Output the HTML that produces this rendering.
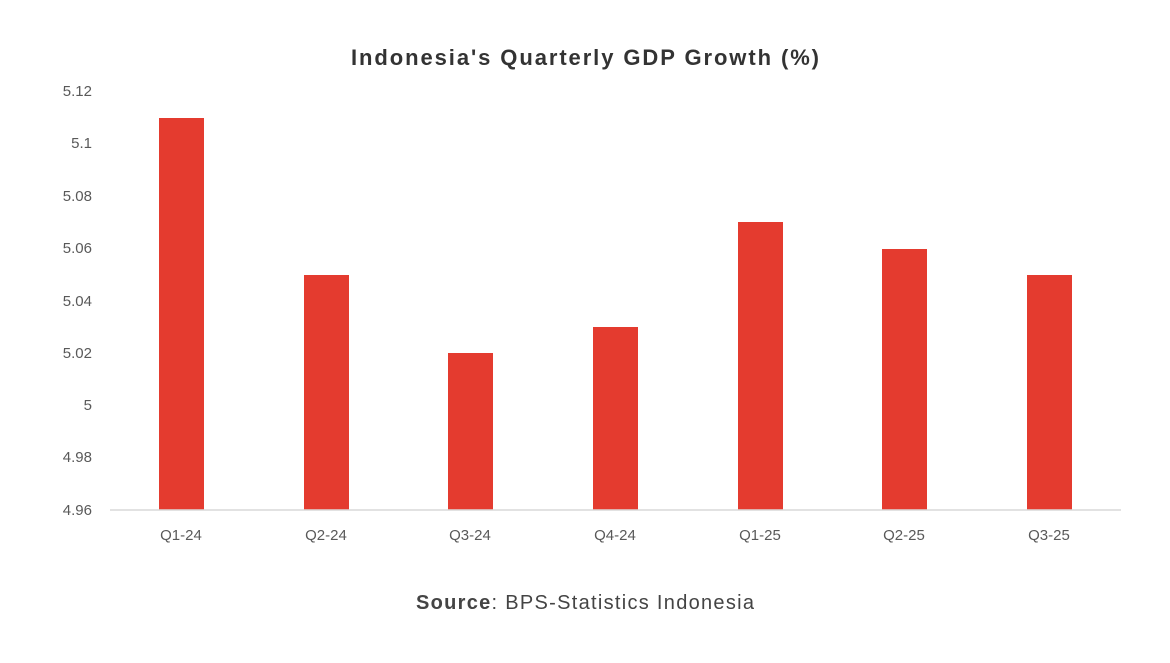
<!DOCTYPE html>
<html><head><meta charset="utf-8"><style>
body{margin:0;background:#fff;width:1170px;height:658px;overflow:hidden;font-family:"Liberation Sans",sans-serif}
</style></head><body>
<svg width="1170" height="658" xmlns="http://www.w3.org/2000/svg" font-family="Liberation Sans, sans-serif">
<text x="351" y="65" textLength="468" lengthAdjust="spacing" font-size="22" font-weight="bold" fill="#333">Indonesia's Quarterly GDP Growth (%)</text>
<g font-size="15" fill="#595959" text-anchor="end">
<text x="92" y="96">5.12</text>
<text x="92" y="148">5.1</text>
<text x="92" y="201">5.08</text>
<text x="92" y="253">5.06</text>
<text x="92" y="306">5.04</text>
<text x="92" y="358">5.02</text>
<text x="92" y="410">5</text>
<text x="92" y="462">4.98</text>
<text x="92" y="515">4.96</text>
</g>
<g fill="#E43B2F">
<rect x="159" y="118" width="45" height="392"/>
<rect x="304" y="275" width="45" height="235"/>
<rect x="448" y="353" width="45" height="157"/>
<rect x="593" y="327" width="45" height="183"/>
<rect x="738" y="222" width="45" height="288"/>
<rect x="882" y="249" width="45" height="261"/>
<rect x="1027" y="275" width="45" height="235"/>
</g>
<line x1="110" y1="510" x2="1121" y2="510" stroke="#d9d9d9" stroke-width="1.5"/>
<g font-size="15" fill="#595959" text-anchor="middle">
<text x="181" y="540">Q1-24</text>
<text x="326" y="540">Q2-24</text>
<text x="470" y="540">Q3-24</text>
<text x="615" y="540">Q4-24</text>
<text x="760" y="540">Q1-25</text>
<text x="904" y="540">Q2-25</text>
<text x="1049" y="540">Q3-25</text>
</g>
<text x="416" y="609" textLength="338" lengthAdjust="spacing" font-size="20" fill="#444"><tspan font-weight="bold">Source</tspan>: BPS-Statistics Indonesia</text>
</svg>
</body></html>
